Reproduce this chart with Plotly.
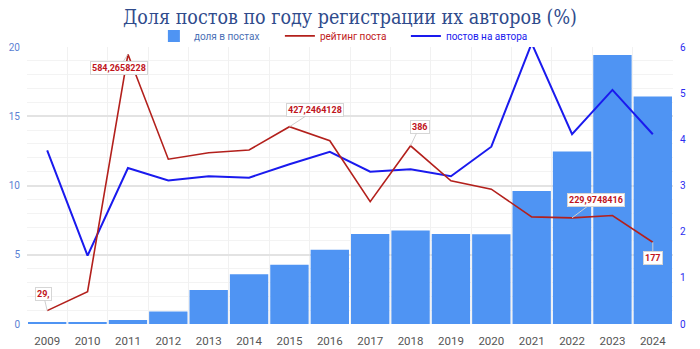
import plotly.graph_objects as go

# Years of author registration
years = ["2009", "2010", "2011", "2012", "2013", "2014", "2015", "2016",
         "2017", "2018", "2019", "2020", "2021", "2022", "2023", "2024"]

# Share of posts (%) by author's registration year
share_pct = [0.1, 0.12, 0.29, 0.9, 2.45, 3.6, 4.27, 5.36,
             6.5, 6.75, 6.5, 6.48, 9.6, 12.45, 19.42, 16.43]

# Average post rating
rating = [29, 70, 584.2658228, 357, 371, 377, 427.2464128, 397,
          265, 386, 310, 292, 232, 229.9748416, 235, 177]

# Posts per author
posts_per_author = [3.76, 1.48, 3.38, 3.11, 3.2, 3.17, 3.46, 3.73,
                    3.3, 3.35, 3.2, 3.84, 6.08, 4.11, 5.07, 4.11]

# Callout labels for selected rating points: (year index, text, offset x, offset y)
rating_callouts = [
    (0, "29,", -4, -17),
    (2, "584,2658228", -9, 14),
    (6, "427,2464128", 26, -17),
    (9, "386", 9, -19),
    (13, "229,9748416", 24, -18),
    (15, "177", 0, 16),
]

BAR_BLUE = "#4f94f3"
LINE_RED = "#b3201c"
LINE_BLUE = "#1a1aee"

fig = go.Figure()

fig.add_trace(go.Bar(
    x=years, y=share_pct, name="<span style='color:#4a6fb5'>доля в постах</span>",
    marker=dict(color=BAR_BLUE, line=dict(width=0)), yaxis="y",
))
fig.add_trace(go.Scatter(
    x=years, y=rating, name="<span style='color:#c0201c'>рейтинг поста</span>",
    mode="lines", line=dict(color=LINE_RED, width=1.6), yaxis="y3",
))
fig.add_trace(go.Scatter(
    x=years, y=posts_per_author, name="<span style='color:#1a1aee'>постов на автора</span>",
    mode="lines", line=dict(color=LINE_BLUE, width=2), yaxis="y2",
))

annotations = []
for idx, text, ox, oy in rating_callouts:
    annotations.append(dict(
        x=idx, y=rating[idx], xref="x", yref="y3",
        text="<b>" + text + "</b>", showarrow=True, arrowhead=0,
        arrowcolor="#cfcfcf", arrowwidth=1, ax=ox, ay=oy,
        bgcolor="white", bordercolor="#d6d6d6", borderwidth=1, borderpad=1,
        font=dict(family="Roboto, sans-serif", size=9, color="#c0141c"),
    ))

fig.update_layout(
    width=700, height=349,
    margin=dict(l=27, r=27, t=47, b=25),
    paper_bgcolor="white", plot_bgcolor="white",
    bargap=0.05,
    title=dict(
        text="Доля постов по году регистрации их авторов (%)",
        x=0.5, xanchor="center", y=0.952, yanchor="middle",
        font=dict(family="DejaVu Serif Condensed, Liberation Serif, serif", size=19.5, color="#2f4b8c"),
    ),
    legend=dict(
        orientation="h", x=0.489, xanchor="center", y=1.04, yanchor="middle",
        font=dict(family="Roboto, sans-serif", size=10),
        bgcolor="rgba(0,0,0,0)", itemwidth=30,
        entrywidth=81, entrywidthmode="pixels",
    ),
    xaxis=dict(
        type="category", categoryorder="array", categoryarray=years,
        range=[-0.5, len(years) - 0.5], autorange=False, automargin=False,
        tickson="boundaries", showgrid=True, gridcolor="#f1f1f1",
        gridwidth=1, ticks="", showline=False, zeroline=False,
        ticklabelstandoff=8,
        tickfont=dict(family="Roboto, sans-serif", size=11.5, color="#555555"),
    ),
    yaxis=dict(
        range=[0, 20], dtick=5, showgrid=True, gridcolor="#e3e3e3", gridwidth=2,
        zeroline=False, showline=False, ticks="", automargin=False,
        ticklabelstandoff=6,
        minor=dict(dtick=1, showgrid=True, gridcolor="#f3f3f3", gridwidth=1),
        tickfont=dict(family="Roboto, sans-serif", size=10, color="#5b7fd3"),
    ),
    yaxis2=dict(
        range=[0, 6], dtick=1, overlaying="y", side="right", showgrid=False,
        zeroline=False, showline=False, ticks="", automargin=False,
        ticklabelstandoff=6,
        tickfont=dict(family="Roboto, sans-serif", size=10, color="#2c2cf0"),
    ),
    yaxis3=dict(
        range=[0, 600], overlaying="y", visible=False, showgrid=False,
    ),
    annotations=annotations,
    showlegend=True,
)

fig.write_html("out.html")
